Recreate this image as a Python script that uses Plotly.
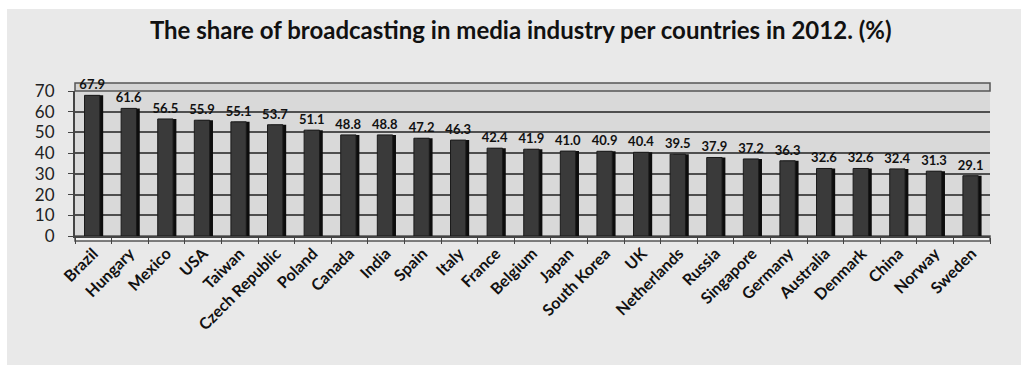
import plotly.graph_objects as go

countries = ["Brazil", "Hungary", "Mexico", "USA", "Taiwan", "Czech Republic", "Poland",
             "Canada", "India", "Spain", "Italy", "France", "Belgium", "Japan",
             "South Korea", "UK", "Netherlands", "Russia", "Singapore", "Germany",
             "Australia", "Denmark", "China", "Norway", "Sweden"]
share = [67.9, 61.6, 56.5, 55.9, 55.1, 53.7, 51.1, 48.8, 48.8, 47.2, 46.3, 42.4, 41.9,
         41.0, 40.9, 40.4, 39.5, 37.9, 37.2, 36.3, 32.6, 32.6, 32.4, 31.3, 29.1]
y_ticks = [0, 10, 20, 30, 40, 50, 60, 70]
title_text = "The share of broadcasting in media industry per countries in 2012. (%)"

W, H = 1021, 368
ML, MR, MT, MB = 75, 31, 91, 132
pw = W - ML - MR
ph = H - MT - MB

def px_x(p):
    return (p - ML) / pw

def px_y(p):
    return (H - MB - p) / ph

fig = go.Figure()

# side (shadow) face of the bars
fig.add_trace(go.Bar(
    x=countries, y=share, width=0.42, offset=-0.15,
    marker=dict(color="#0d0d0d", line=dict(width=0)),
    hoverinfo="skip", showlegend=False,
))
# front face with labels
fig.add_trace(go.Bar(
    x=countries, y=share, width=0.42, offset=-0.24,
    marker=dict(color="#3a3a3a", line=dict(color="#1a1a1a", width=1)),
    text=[f"{v:.1f}" for v in share], textposition="outside", cliponaxis=False,
    constraintext="none",
    textfont=dict(family="Lato", size=13, color="#111111", weight="bold"),
    showlegend=False,
))

shapes = [
    # white outer frame strips
    dict(type="rect", xref="paper", yref="paper", x0=px_x(0), x1=px_x(7), y0=px_y(H), y1=px_y(0),
         fillcolor="white", line=dict(width=0), layer="below"),
    dict(type="rect", xref="paper", yref="paper", x0=px_x(0), x1=px_x(W), y0=px_y(9), y1=px_y(0),
         fillcolor="white", line=dict(width=0), layer="below"),
    dict(type="rect", xref="paper", yref="paper", x0=px_x(0), x1=px_x(W), y0=px_y(H), y1=px_y(365),
         fillcolor="white", line=dict(width=0), layer="below"),
    # back wall above top gridline
    dict(type="rect", xref="paper", yref="paper", x0=0, x1=1, y0=1, y1=px_y(83),
         fillcolor="#d4d4d4", line=dict(color="#555555", width=1.5), layer="below"),
    # floor
    dict(type="rect", xref="paper", yref="paper", x0=0, x1=1, y0=px_y(241), y1=0,
         fillcolor="#f4f4f4", line=dict(color="#555555", width=1.5), layer="below"),
]

fig.update_layout(
    width=W, height=H,
    margin=dict(l=ML, r=MR, t=MT, b=MB),
    paper_bgcolor="#e9e9e9",
    plot_bgcolor="#d9d9d9",
    barmode="overlay",
    shapes=shapes,
    title=dict(text=title_text, x=0.51, xref="container", xanchor="center",
               y=1 - 31 / H, yref="container", yanchor="middle",
               font=dict(family="Lato", size=24, color="#111111", weight="bold")),
    xaxis=dict(
        type="category", tickangle=-45,
        tickfont=dict(family="Lato", size=16, color="#111111", weight="bold"),
        showline=True, linecolor="#444444", linewidth=2,
        ticks="outside", ticklen=6, tickcolor="#444444", tickson="boundaries",
        showgrid=False,
    ),
    yaxis=dict(
        range=[0, 70], tickvals=y_ticks,
        tickfont=dict(family="Lato", size=17, color="#222222"),
        showgrid=True, gridcolor="#4f4f4f", gridwidth=1.5,
        showline=True, linecolor="#444444", linewidth=2,
        ticks="outside", ticklen=5, tickcolor="#444444",
        ticklabelstandoff=10,
        zeroline=False,
    ),
)

fig.write_html("out.html")
